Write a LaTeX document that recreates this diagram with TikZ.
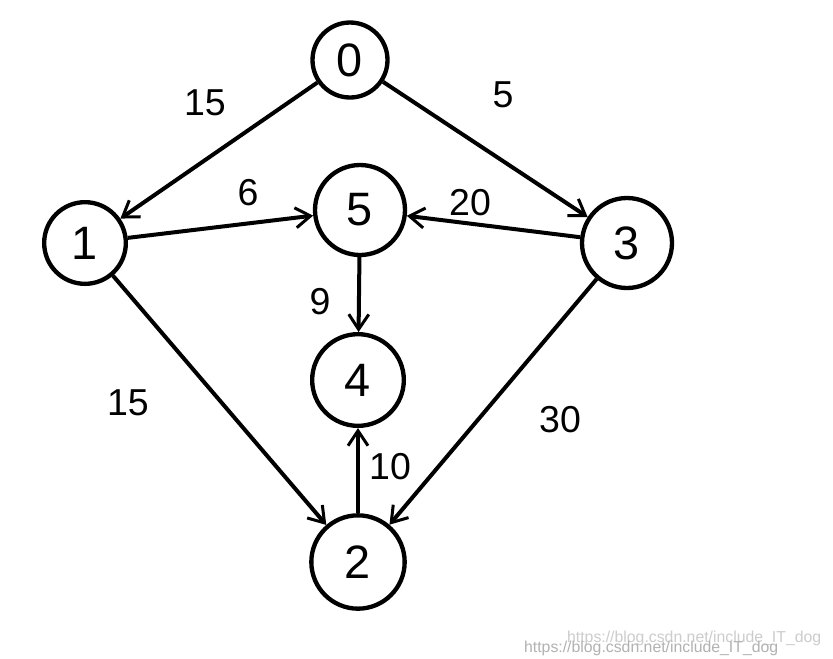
\documentclass[tikz,border=0pt]{standalone}
\usepackage{fontspec}
\setmainfont{Liberation Sans}
\usetikzlibrary{arrows.meta}

\begin{document}
\begin{tikzpicture}[x=0.3mm,y=-0.3mm,
    vertex/.style={draw,circle,line width=1.3mm,inner sep=0pt,font=\fontsize{40}{44}\selectfont},
    edge/.style={line width=1.2mm,-{Straight Barb[length=4.5mm,width=6mm,line width=0.9mm]}},
    weight/.style={font=\fontsize{32}{36}\selectfont},
    watermark/.style={text=black!20,font=\fontsize{13.5}{15}\selectfont,anchor=west}]
  \useasboundingbox[fill=white] (0,0) rectangle (833,658);

  \node[vertex,minimum size=22.5mm] (node 0) at (350,60) {0};
  \node[vertex,minimum size=24.5mm] (node 1) at (85,243) {1};
  \node[vertex,minimum size=27mm] (node 5) at (360,210) {5};
  \node[vertex,minimum size=27mm] (node 3) at (627,243) {3};
  \node[vertex,minimum size=27.5mm] (node 4) at (358,380) {4};
  \node[vertex,minimum size=28mm] (node 2) at (358,562) {2};

  \draw[edge] (node 0) -- (node 1);
  \draw[edge] (node 0) -- (node 3);
  \draw[edge] (node 1) -- (node 5);
  \draw[edge] (node 3) -- (node 5);
  \draw[edge] (node 5) -- (node 4);
  \draw[edge] (node 2) -- (node 4);
  \draw[edge] (node 1) -- (node 2);
  \draw[edge] (node 3) -- (node 2);

  \node[weight] (w 01) at (205,103) {15};
  \node[weight] (w 03) at (503,95) {5};
  \node[weight] (w 15) at (248,193) {6};
  \node[weight] (w 35) at (470,203) {20};
  \node[weight] (w 54) at (320,302) {9};
  \node[weight] (w 24) at (390,467) {10};
  \node[weight] (w 12) at (128,403) {15};
  \node[weight] (w 32) at (560,420) {30};

  \node[watermark] (mark top) at (563,638) {https://blog.csdn.net/include\_IT\_dog};
  \node[watermark,text=black!30] (mark low) at (520,648) {https://blog.csdn.net/include\_IT\_dog};
\end{tikzpicture}
\end{document}
